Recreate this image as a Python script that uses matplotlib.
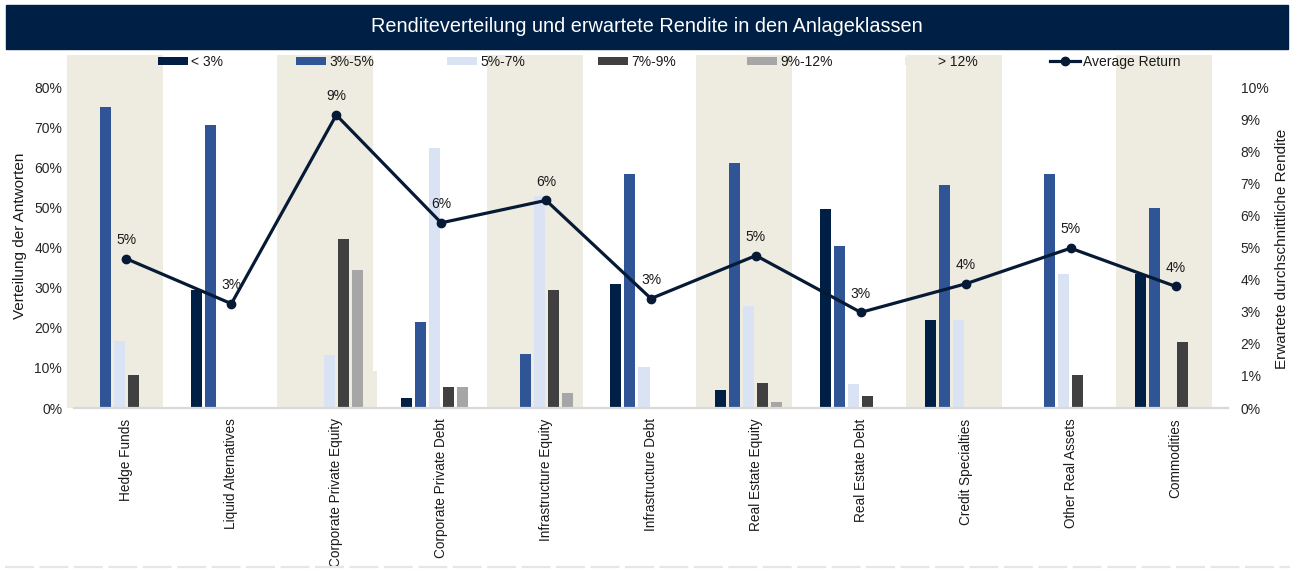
import matplotlib
matplotlib.use("Agg")
import matplotlib.pyplot as plt
import numpy as np
from matplotlib.patches import Rectangle
from matplotlib.lines import Line2D
from matplotlib.ticker import FuncFormatter

plt.rcParams['font.family'] = ['Liberation Sans', 'DejaVu Sans']

# ---------------- data ----------------
categories = ["Hedge Funds", "Liquid Alternatives", "Corporate Private Equity",
              "Corporate Private Debt", "Infrastructure Equity", "Infrastructure Debt",
              "Real Estate Equity", "Real Estate Debt", "Credit Specialties",
              "Other Real Assets", "Commodities"]
series_names = ["< 3%", "3%-5%", "5%-7%", "7%-9%", "9%-12%", "> 12%"]
share_lt3 = [0.0, 29.4, 0.0, 2.5, 0.0, 30.8, 4.6, 49.7, 22.0, 0.0, 33.3]
share_3_5 = [75.0, 70.6, 0.0, 21.4, 13.4, 58.4, 61.2, 40.3, 55.5, 58.3, 49.8]
share_5_7 = [16.7, 0.0, 13.3, 64.8, 52.8, 10.1, 25.5, 6.1, 22.0, 33.3, 0.0]
share_7_9 = [8.3, 0.0, 42.2, 5.2, 29.3, 0.0, 6.3, 2.9, 0.0, 8.2, 16.4]
share_9_12 = [0.0, 0.0, 34.5, 5.2, 3.7, 0.0, 1.5, 0.0, 0.0, 0.0, 0.0]
share_gt12 = [0.0, 0.0, 9.3, 0.0, 0.0, 0.0, 0.0, 0.0, 0.0, 0.0, 0.0]
avg_return = [4.65, 3.25, 9.13, 5.77, 6.47, 3.41, 4.75, 2.98, 3.87, 4.98, 3.79]
avg_labels = ["5%", "3%", "9%", "6%", "6%", "3%", "5%", "3%", "4%", "5%", "4%"]
band_flags = [1, 0, 1, 0, 1, 0, 1, 0, 1, 0, 1]

title = "Renditeverteilung und erwartete Rendite in den Anlageklassen"
left_label = "Verteilung der Antworten"
right_label = "Erwartete durchschnittliche Rendite"
line_name = "Average Return"

# ---------------- styles ----------------
NAVY = "#001F44"
BAND = "#EEECE1"
colors = [NAVY, "#2F5597", "#DAE3F3", "#404040", "#A6A6A6", BAND]
LINE_C = "#061A35"

W, H = 1292, 569
fig = plt.figure(figsize=(W / 100, H / 100), dpi=100)

# title bar
fig.patches.append(Rectangle((6 / W, 1 - 48.5 / H), (1288 - 6) / W, 43.5 / H,
                             transform=fig.transFigure, color=NAVY, zorder=0))
fig.text(647 / W, 1 - 26.5 / H, title, color="white", fontsize=14.3,
         ha="center", va="center")

# bottom dashed line
fig.add_artist(Line2D([5 / W, 1290 / W], [1 - 567 / H, 1 - 567 / H],
                      transform=fig.transFigure, color="#E6E6E6", lw=1.6,
                      dashes=(13, 2.5)))

ax_l, ax_b, ax_w, ax_h = 74 / W, 1 - 408 / H, 1154 / W, 353 / H
ax = fig.add_axes([ax_l, ax_b, ax_w, ax_h])
ax2 = ax.twinx()

x = np.arange(len(categories))
ax.set_xlim(-0.5, len(categories) - 0.5)
ax.set_ylim(0, 0.88)
ax2.set_ylim(0, 0.11)

# background bands
band_h = [0.88 if f else 0 for f in band_flags]
ax.bar(x - 0.11, band_h, width=0.915, color=BAND, zorder=0, clip_on=False,
       linewidth=0)

pitch = 0.1335
bw = 0.105
all_series = [share_lt3, share_3_5, share_5_7, share_7_9, share_9_12, share_gt12]
handles = []
for k, (vals, col, name) in enumerate(zip(all_series, colors, series_names)):
    b = ax.bar(x + (k - 2.5) * pitch, np.array(vals) / 100.0, width=bw,
               color=col, zorder=2, linewidth=0, label=name)
    handles.append(b)

ln, = ax2.plot(x, np.array(avg_return) / 100.0, color=LINE_C, lw=2.3,
               marker="o", markersize=6, zorder=5, label=line_name)
handles.append(ln)
for xi, yi, lab in zip(x, avg_return, avg_labels):
    ax2.annotate(lab, (xi, yi / 100.0), xytext=(0, 8.5), textcoords="offset points",
                 ha="center", va="bottom", fontsize=10, color="#1A1A1A")

ax.set_zorder(1)
ax2.set_zorder(2)
ax2.patch.set_visible(False)

# axes styling
for a in (ax, ax2):
    for s in a.spines.values():
        s.set_visible(False)
ax.spines["bottom"].set_visible(True)
ax.spines["bottom"].set_color("#D9D9D9")
ax.spines["bottom"].set_linewidth(1.6)

pct = FuncFormatter(lambda v, p: f"{v * 100:.0f}%")
ax.set_yticks(np.arange(0, 0.81, 0.10))
ax.yaxis.set_major_formatter(pct)
ax2.set_yticks(np.arange(0, 0.101, 0.01))
ax2.yaxis.set_major_formatter(pct)
ax.tick_params(axis="y", length=0, pad=8.5, labelsize=10, labelcolor="#262626")
ax2.tick_params(axis="y", length=0, pad=9, labelsize=10, labelcolor="#262626")

ax.set_xticks(x)
ax.set_xticklabels(categories, rotation=90, fontsize=9.8, color="#1A1A1A")
ax.tick_params(axis="x", length=0, pad=7.5)

fig.text(20 / W, 1 - 236 / H, left_label, rotation=90, ha="center", va="center",
         fontsize=11, color="#1A1A1A")
fig.text(1282 / W, 1 - 249 / H, right_label, rotation=90, ha="center", va="center",
         fontsize=11, color="#1A1A1A")

# legend entries (one row, evenly spread like the reference)
leg_x = [158, 296, 447, 598, 747, 905, 1050]
leg_labels = series_names + [line_name]
for h, lab, lx in zip(handles, leg_labels, leg_x):
    lg = fig.legend(handles=[h], labels=[lab], loc="center left",
                    bbox_to_anchor=(lx / W, 1 - 61.5 / H), frameon=False,
                    fontsize=10, handlelength=2.15, handleheight=0.5,
                    handletextpad=0.25, borderpad=0, borderaxespad=0)
    for t in lg.get_texts():
        t.set_color("#1A1A1A")

fig.savefig("out.png", dpi=100)
